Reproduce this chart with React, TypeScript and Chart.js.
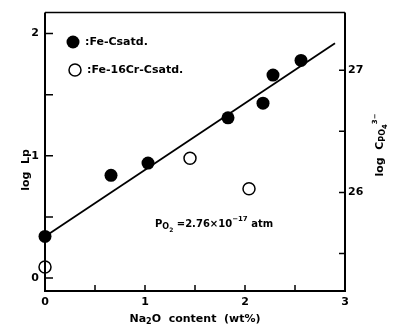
import React, { useEffect, useRef } from 'react';
import { Chart, registerables } from 'chart.js';
Chart.register(...registerables);

const feX = [0, 0.66, 1.03, 1.83, 2.18, 2.28, 2.56];
const feY = [0.34, 0.84, 0.94, 1.31, 1.43, 1.66, 1.78];
const crX = [0, 1.45, 2.04];
const crY = [0.09, 0.98, 0.73];
const fitX = [0, 2.9];
const fitY = [0.34, 1.92];
const seriesNames = [':Fe-Csatd.', ':Fe-16Cr-Csatd.'];
const xTicks = [0, 0.5, 1, 1.5, 2, 2.5, 3];
const yTicks = [0, 0.5, 1, 1.5, 2];
const y2Ticks = [25.5, 26, 26.5, 27];
const Y2_OFFSET = 25.3;
const Y_MIN = -0.106;
const Y_MAX = 2.171;

const FONT = '"DejaVu Sans", "Liberation Sans", sans-serif';

type Part = { t: string; dy?: number; s?: number };

function drawRich(ctx: CanvasRenderingContext2D, parts: Part[], x: number, y: number, size: number, align: 'left' | 'center') {
  ctx.textBaseline = 'middle';
  ctx.textAlign = 'left';
  let total = 0;
  const widths: number[] = [];
  for (const p of parts) {
    ctx.font = `bold ${Math.round(size * (p.s ?? 1))}px ${FONT}`;
    const w = ctx.measureText(p.t).width;
    widths.push(w);
    total += w;
  }
  let cx = align === 'center' ? x - total / 2 : x;
  parts.forEach((p, i) => {
    ctx.font = `bold ${Math.round(size * (p.s ?? 1))}px ${FONT}`;
    ctx.fillText(p.t, cx, y + (p.dy ?? 0));
    cx += widths[i];
  });
}

const decorPlugin = {
  id: 'decor',
  afterDraw(chart: any) {
    const { ctx, chartArea } = chart;
    const { left, right, top, bottom } = chartArea;
    const xs = chart.scales.x;
    const ys = chart.scales.y;
    const y2 = chart.scales.y2;
    ctx.save();
    ctx.strokeStyle = '#000';
    ctx.fillStyle = '#000';
    // frame
    ctx.lineWidth = 2;
    ctx.beginPath();
    ctx.moveTo(left, top);
    ctx.lineTo(left, bottom);
    ctx.lineTo(right, bottom);
    ctx.lineTo(right, top);
    ctx.stroke();
    ctx.lineWidth = 1.5;
    ctx.beginPath();
    ctx.moveTo(left, top);
    ctx.lineTo(right, top);
    ctx.stroke();
    // inner ticks
    ctx.lineWidth = 1.5;
    ctx.beginPath();
    for (const v of xTicks) {
      if (v === 0 || v === 3) continue;
      const px = xs.getPixelForValue(v);
      ctx.moveTo(px, bottom);
      ctx.lineTo(px, bottom - 6);
    }
    for (const v of yTicks) {
      const py = ys.getPixelForValue(v);
      ctx.moveTo(left, py);
      ctx.lineTo(left + 8, py);
    }
    for (const v of y2Ticks) {
      const py = y2.getPixelForValue(v);
      ctx.moveTo(right, py);
      ctx.lineTo(right - 6, py);
    }
    ctx.stroke();

    // legend
    ctx.beginPath();
    ctx.arc(73, 42, 6.5, 0, Math.PI * 2);
    ctx.fill();
    ctx.beginPath();
    ctx.arc(75, 70, 6, 0, Math.PI * 2);
    ctx.fillStyle = '#fff';
    ctx.fill();
    ctx.lineWidth = 1.5;
    ctx.stroke();
    ctx.fillStyle = '#000';
    drawRich(ctx, [{ t: seriesNames[0] }], 85, 42, 11, 'left');
    drawRich(ctx, [{ t: seriesNames[1] }], 87, 70, 11, 'left');

    // annotation
    drawRich(
      ctx,
      [
        { t: 'P' },
        { t: 'O', dy: 3, s: 0.75 },
        { t: '2', dy: 6, s: 0.6 },
        { t: ' =2.76×10' },
        { t: '−17', dy: -5, s: 0.7 },
        { t: ' atm' },
      ],
      xs.getPixelForValue(1.1),
      ys.getPixelForValue(0.44),
      10,
      'left'
    );

    // x title
    drawRich(
      ctx,
      [{ t: 'Na' }, { t: '2', dy: 3, s: 0.75 }, { t: 'O  content  (wt%)' }],
      (left + right) / 2,
      319,
      11,
      'center'
    );

    // left title
    ctx.save();
    ctx.translate(26, 170);
    ctx.rotate(-Math.PI / 2);
    drawRich(ctx, [{ t: 'log  Lp' }], 0, 0, 11, 'center');
    ctx.restore();

    // right title
    ctx.save();
    ctx.translate(380, 145);
    ctx.rotate(-Math.PI / 2);
    drawRich(
      ctx,
      [{ t: 'log  C' }, { t: 'PO', dy: 3, s: 0.7 }, { t: '4', dy: 5, s: 0.6 }, { t: '3−', dy: -5, s: 0.6 }],
      0,
      0,
      11,
      'center'
    );
    ctx.restore();
    ctx.restore();
  },
};

export default function App() {
  const ref = useRef<HTMLCanvasElement>(null);
  useEffect(() => {
    if (!ref.current) return;
    const tickFont = { family: FONT, size: 11, weight: 'bold' as const };
    const chart = new Chart(ref.current, {
      type: 'scatter',
      data: {
        datasets: [
          {
            type: 'line',
            label: 'fit',
            data: fitX.map((x, i) => ({ x, y: fitY[i] })),
            borderColor: '#000',
            borderWidth: 1.8,
            pointRadius: 0,
            fill: false,
            clip: false,
            order: 3,
          } as any,
          {
            label: seriesNames[0],
            data: feX.map((x, i) => ({ x, y: feY[i] })),
            backgroundColor: '#000',
            borderColor: '#000',
            pointRadius: 6.5,
            pointBorderWidth: 0,
            clip: false,
            order: 1,
          },
          {
            label: seriesNames[1],
            data: crX.map((x, i) => ({ x, y: crY[i] })),
            backgroundColor: '#fff',
            borderColor: '#000',
            pointRadius: 6,
            pointBorderWidth: 1.5,
            clip: false,
            order: 2,
          },
        ],
      },
      options: {
        animation: false,
        responsive: true,
        maintainAspectRatio: false,
        layout: { padding: { top: 12, left: 0, right: 0, bottom: 0 } },
        plugins: { legend: { display: false }, tooltip: { enabled: false } },
        scales: {
          x: {
            type: 'linear',
            min: 0,
            max: 3,
            grid: { display: false, drawTicks: false },
            border: { display: false },
            afterBuildTicks: (s: any) => {
              s.ticks = xTicks.map((v) => ({ value: v }));
            },
            afterFit: (s: any) => {
              s.height = 42;
            },
            ticks: {
              color: '#000',
              font: tickFont,
              padding: 5,
              maxRotation: 0,
              autoSkip: false,
              callback: (v: any) => (Number.isInteger(v) ? String(v) : ''),
            },
          },
          y: {
            type: 'linear',
            position: 'left',
            min: Y_MIN,
            max: Y_MAX,
            grid: { display: false, drawTicks: false },
            border: { display: false },
            afterBuildTicks: (s: any) => {
              s.ticks = yTicks.map((v) => ({ value: v }));
            },
            afterFit: (s: any) => {
              s.width = 45;
            },
            ticks: {
              color: '#000',
              font: tickFont,
              padding: 6,
              autoSkip: false,
              callback: (v: any) => (Number.isInteger(v) ? String(v) : ''),
            },
          },
          y2: {
            type: 'linear',
            position: 'right',
            min: Y_MIN + Y2_OFFSET,
            max: Y_MAX + Y2_OFFSET,
            grid: { display: false, drawTicks: false },
            border: { display: false },
            afterBuildTicks: (s: any) => {
              s.ticks = y2Ticks.map((v) => ({ value: v }));
            },
            afterFit: (s: any) => {
              s.width = 49;
            },
            ticks: {
              color: '#000',
              font: tickFont,
              padding: 3,
              autoSkip: false,
              callback: (v: any) => (Number.isInteger(v) ? String(v) : ''),
            },
          },
        },
      },
      plugins: [decorPlugin],
    } as any);
    return () => chart.destroy();
  }, []);
  return (
    <div style={{ position: 'fixed', left: 0, top: 0, width: 394, height: 333, background: '#fff' }}>
      <canvas ref={ref} />
    </div>
  );
}
